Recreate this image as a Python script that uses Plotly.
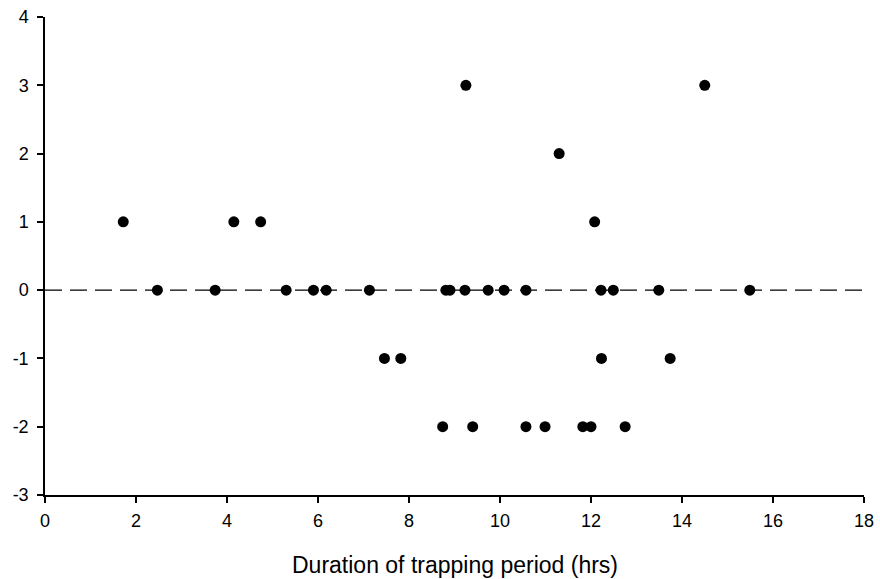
import plotly.graph_objects as go

# Data
x_vals = [1.72, 4.15, 4.74, 12.08,
          9.25, 14.5,
          11.3,
          2.47, 3.74, 5.3, 5.9, 6.18, 7.13, 8.81, 8.9, 9.23, 9.74, 10.09, 10.57,
          12.22, 12.49, 13.49, 15.49,
          7.46, 7.82, 12.23, 13.74,
          8.74, 9.4, 10.57, 10.99, 11.82, 12.0, 12.75]
y_vals = [1, 1, 1, 1,
          3, 3,
          2,
          0, 0, 0, 0, 0, 0, 0, 0, 0, 0, 0, 0,
          0, 0, 0, 0,
          -1, -1, -1, -1,
          -2, -2, -2, -2, -2, -2, -2]
ref_x = [0, 18]
ref_y = [0, 0]
x_ticks = [0, 2, 4, 6, 8, 10, 12, 14, 16, 18]
y_ticks = [-3, -2, -1, 0, 1, 2, 3, 4]
y_tick_labels = ["-3", "-2", "-1", "0", "1", "2", "3", "4"]
x_title = "Duration of trapping period (hrs)"

fig = go.Figure()
fig.add_trace(go.Scatter(x=ref_x, y=ref_y, mode="lines",
                         line=dict(color="black", width=1.3, dash="17px,8px"),
                         hoverinfo="skip", showlegend=False))
fig.add_trace(go.Scatter(x=x_vals, y=y_vals, mode="markers",
                         marker=dict(color="black", size=11),
                         showlegend=False))

fig.update_layout(
    width=880, height=579,
    margin=dict(l=45, r=16, t=17, b=84),
    paper_bgcolor="white", plot_bgcolor="white",
    font=dict(family="Arial, Liberation Sans, sans-serif", size=18, color="black"),
    showlegend=False,
    annotations=[dict(text=x_title, xref="paper", yref="paper", x=0.5, y=-0.146,
                      xanchor="center", yanchor="middle", showarrow=False,
                      font=dict(size=23, color="black"))],
)
fig.update_xaxes(range=[0, 18], tickvals=x_ticks, showgrid=False, zeroline=False,
                 automargin=False,
                 showline=True, linecolor="black", linewidth=1.5,
                 ticks="outside", ticklen=6, tickcolor="black", tickwidth=1.5,
                 tickfont=dict(size=18), ticklabelstandoff=3)
fig.update_yaxes(range=[-3, 4], tickvals=y_ticks, ticktext=y_tick_labels,
                 showgrid=False, zeroline=False, automargin=False,
                 showline=True, linecolor="black", linewidth=1.5,
                 ticks="outside", ticklen=6, tickcolor="black", tickwidth=1.5,
                 tickfont=dict(size=18), ticklabelstandoff=5)

fig.write_html("out.html")
